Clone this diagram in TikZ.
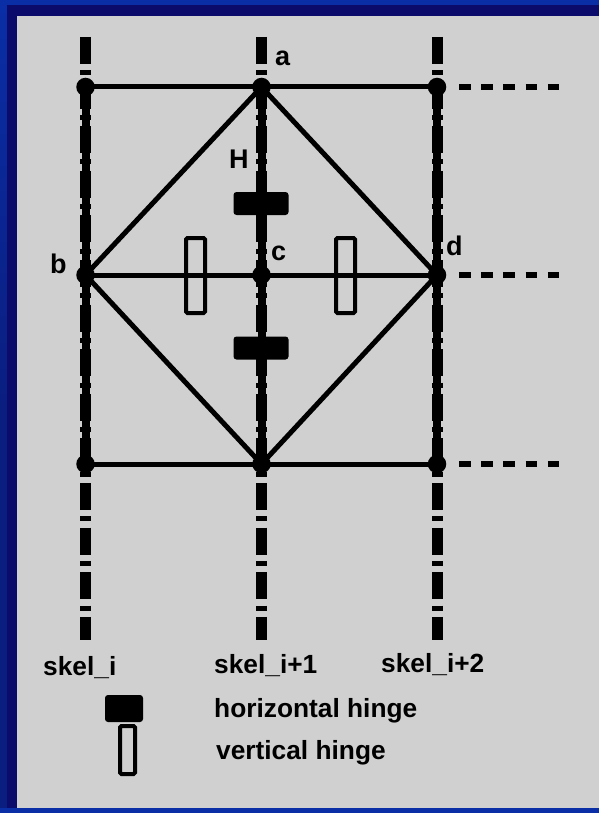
\documentclass[tikz,border=0pt]{standalone}
\usepackage{fontspec}
\setmainfont{Liberation Sans}
\definecolor{outerblue}{HTML}{0A2EA6}
\definecolor{outerblue2}{HTML}{0A1E80}
\definecolor{navy}{HTML}{0B0B6B}
\definecolor{panel}{HTML}{D0D0D0}
\begin{document}
\begin{tikzpicture}[x=1pt,y=-1pt,
  edge/.style={line width=5pt, line cap=round},
  skelline/.style={line width=11pt, dash pattern=on 27pt off 6.3pt on 5pt off 6.3pt},
  skelcore/.style={line width=8pt},
  ext/.style={line width=6pt, dash pattern=on 11.5pt off 10.7pt},
  dot/.style={circle, fill=black, inner sep=0pt, minimum size=18.5pt},
  hh/.style={fill=black, rounded corners=3pt, minimum width=55pt, minimum height=23pt, inner sep=0pt},
  vh/.style={draw=black, line width=4pt, minimum width=19pt, minimum height=75pt, inner sep=0pt, rounded corners=1.5pt},
  lbl/.style={font=\fontsize{27}{30}\selectfont\bfseries, inner sep=0pt, anchor=base west},
  txt/.style={font=\fontsize{26.3}{30}\selectfont\bfseries, inner sep=0pt, anchor=base west}]
% background
\useasboundingbox (0,0) rectangle (599,813);
\shade[top color=outerblue, bottom color=outerblue2, middle color=outerblue2] (0,0) rectangle (599,813);
\fill[outerblue] (0,0) rectangle (599,5);
\fill[outerblue] (0,808) rectangle (599,813);
\fill[navy] (7,5) rectangle (599,808);
\fill[panel] (17,16) rectangle (599,808);

% grid coordinates
\coordinate (a) at (261.5,87);
\coordinate (tl) at (85.5,87);
\coordinate (tr) at (437,87);
\coordinate (b) at (85.5,275);
\coordinate (c) at (261.5,275);
\coordinate (d) at (437,275);
\coordinate (bl) at (85.5,464);
\coordinate (bm) at (261.5,464);
\coordinate (br) at (437,464);

% skeleton ends
\coordinate (s1t) at (85.5,37);  \coordinate (s1b) at (85.5,640);
\coordinate (s2t) at (261.5,37); \coordinate (s2b) at (261.5,640);
\coordinate (s3t) at (437,37);   \coordinate (s3b) at (437,640);

% skeletons
\draw[skelcore] (tl) -- (bl);
\draw[skelcore] (a) -- (bm);
\draw[skelcore] (tr) -- (br);
\draw[skelline] (s1t) -- (s1b);
\draw[skelline] (s2t) -- (s2b);
\draw[skelline] (s3t) -- (s3b);

% mesh edges
\draw[edge] (tl) -- (a) -- (tr);
\draw[edge] (b) -- (c) -- (d);
\draw[edge] (bl) -- (bm) -- (br);
\draw[edge] (a) -- (b) -- (bm) -- (d) -- cycle;

% dashed continuations
\coordinate (e1s) at (459,87);  \coordinate (e1e) at (560,87);
\coordinate (e2s) at (459,275); \coordinate (e2e) at (560,275);
\coordinate (e3s) at (459,464); \coordinate (e3e) at (560,464);
\draw[ext] (e1s) -- (e1e);
\draw[ext] (e2s) -- (e2e);
\draw[ext] (e3s) -- (e3e);

% hinges
\node[hh] (h1) at (261,203.5) {};
\node[hh] (h2) at (261,348) {};
\node[vh] (v1) at (195.5,275.5) {};
\node[vh] (v2) at (345.5,275.5) {};

% dots
\node[dot] (da) at (a) {};
\node[dot] (dtl) at (tl) {};
\node[dot] (dtr) at (tr) {};
\node[dot] (db) at (b) {};
\node[dot] (dc) at (c) {};
\node[dot] (dd) at (d) {};
\node[dot] (dbl) at (bl) {};
\node[dot] (dbm) at (bm) {};
\node[dot] (dbr) at (br) {};

% labels
\node[lbl] (la) at (275,66) {a};
\node[lbl] (lH) at (229,168) {H};
\node[lbl] (lb) at (50,273) {b};
\node[lbl] (lc) at (271,260) {c};
\node[lbl] (ld) at (446,255) {d};

\node[txt] (t1) at (43,675) {skel\_i};
\node[txt] (t2) at (214,673) {skel\_i+1};
\node[txt] (t3) at (381,672) {skel\_i+2};

% legend
\node[hh, minimum width=38pt, minimum height=27pt] (lh) at (124,708.5) {};
\node[vh, minimum width=15pt, minimum height=48pt] (lv) at (127.5,750) {};
\node[txt] (lht) at (214,717) {horizontal hinge};
\node[txt] (lvt) at (216,759) {vertical hinge};
\end{tikzpicture}
\end{document}
